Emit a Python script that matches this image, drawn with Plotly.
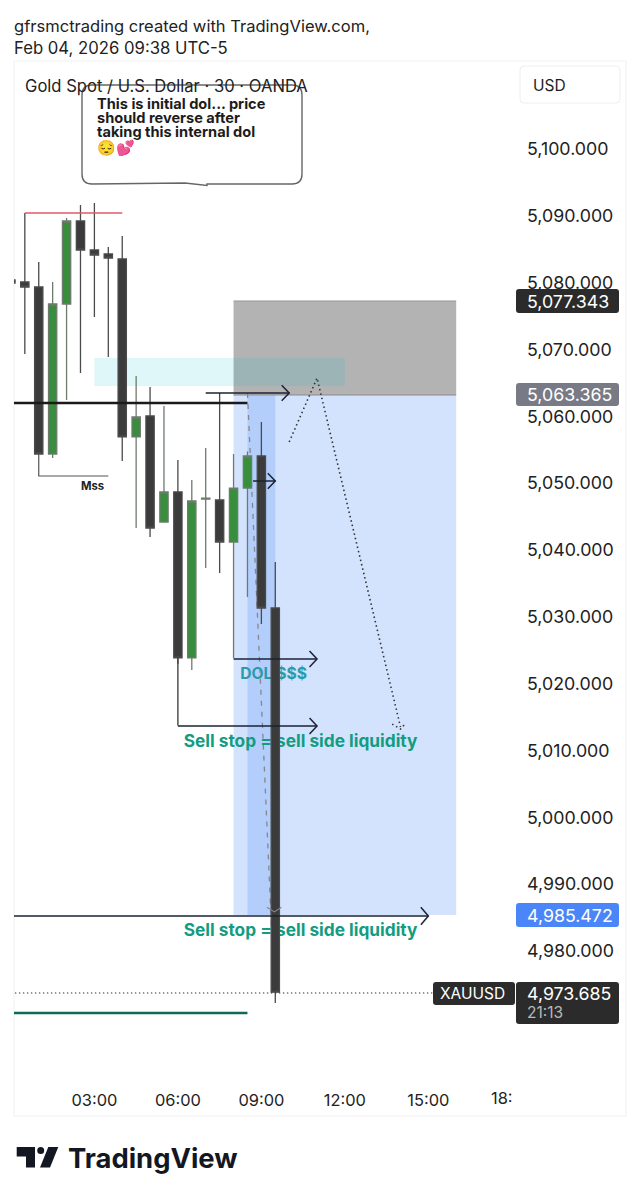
import plotly.graph_objects as go

FONT = "Inter, 'Liberation Sans', sans-serif"
DAY = "2026-02-04"

# ---- data ----
candle_times = ["00:00","00:30","01:00","01:30","02:00","02:30","03:00","03:30","04:00","04:30",
                "05:00","05:30","06:00","06:30","07:00","07:30","08:00","08:30","09:00","09:30"]
open_  = [5080.25,5079.95,5079.20,5054.21,5076.66,5089.08,5084.74,5084.14,5083.39,5056.76,
          5059.90,5044.04,5048.53,5023.69,5047.48,5047.33,5041.04,5049.12,5053.91,5031.17]
high   = [5080.60,5090.27,5082.94,5079.95,5089.53,5091.47,5091.77,5085.19,5086.83,5065.88,
          5064.24,5061.39,5053.31,5050.32,5055.11,5063.34,5054.21,5054.60,5059.00,5038.05]
low    = [5079.50,5069.18,5054.21,5053.61,5062.29,5066.33,5074.71,5068.73,5053.17,5043.14,
          5041.79,5044.04,5022.79,5021.89,5037.15,5036.41,5023.69,5032.81,5028.77,4972.06]
close  = [5079.80,5079.20,5054.21,5076.66,5089.08,5084.74,5083.99,5083.54,5056.76,5059.75,
          5043.14,5048.53,5023.69,5047.18,5047.62,5041.04,5049.12,5053.91,5031.17,4973.685]

y_ticks = [4980,4990,5000,5010,5020,5030,5040,5050,5060,5070,5080,5090,5100]
y_labels = [f"{v:,.3f}" for v in y_ticks]
x_ticks = ["03:00","06:00","09:00","12:00","15:00"]

entry_top, entry, target = 5077.11, 5063.04, 4985.23
cyan_top, cyan_bottom = 5068.58, 5064.39
black_level, red_level, mss_level = 5061.84, 5090.27, 5050.92
last_line, green_level = 4973.56, 4970.57

W, H = 640, 1200
L, R, T_, B = 14, 513, 61, 1083
Y_RANGE = [4960.09, 5113.02]
X_RANGE = [f"{DAY} 00:06:40", f"{DAY} 18:02:30"]
PW, PH = R - L, B - T_

def px(x): return (x - L) / PW
def py(y): return (B - y) / PH
def tm(h):
    total = int(round(h * 3600))
    return f"{DAY} {total//3600:02d}:{(total%3600)//60:02d}:{total%60:02d}"
def tp(h): return tm(h).replace(" ", "_")

shapes, anns = [], []

def rect(h0, h1, p0, p1, fill, layer="below", line=None):
    shapes.append(dict(type="rect", xref="x", yref="y", x0=tm(h0), x1=tm(h1), y0=p0, y1=p1,
                       fillcolor=fill, line=line or dict(width=0), layer=layer))
def seg(pts, color, width=1.5, dash="solid", layer="above"):
    d = "M" + " L".join(f"{tp(h)},{p}" for h, p in pts)
    shapes.append(dict(type="path", xref="x", yref="y", path=d, line=dict(color=color, width=width, dash=dash), layer=layer))
def arrow(h0, h1, p, color="#1b2233", dh=0.27, dp=1.15):
    seg([(h0, p), (h1, p)], color)
    seg([(h1-dh, p+dp), (h1, p), (h1-dh, p-dp)], color)
def rrect(x0, y0, x1, y1, r, fill, line=None, lw=0):
    X0, X1, Y0, Y1 = px(x0), px(x1), py(y0), py(y1)
    rx, ry = r / PW, r / PH
    d = (f"M{X0+rx},{Y0} L{X1-rx},{Y0} Q{X1},{Y0} {X1},{Y0-ry} L{X1},{Y1+ry} Q{X1},{Y1} {X1-rx},{Y1} "
         f"L{X0+rx},{Y1} Q{X0},{Y1} {X0},{Y1+ry} L{X0},{Y0-ry} Q{X0},{Y0} {X0+rx},{Y0} Z")
    shapes.append(dict(type="path", xref="paper", yref="paper", path=d, fillcolor=fill,
                       line=dict(color=line or fill, width=lw), layer="above"))
def text(x, y, s, size=15, color="#222", anchor="left", weight=None, family=FONT):
    f = dict(family=family, size=size, color=color)
    if weight: f["weight"] = weight
    anns.append(dict(xref="paper", yref="paper", x=px(x), y=py(y), text=s, showarrow=False,
                     xanchor=anchor, yanchor="middle", font=f, borderpad=0, borderwidth=0, align="left"))
def under_text(h, p, s, size, color):
    shapes.append(dict(type="rect", xref="x", yref="y", x0=tm(h), x1=tm(h+0.01), y0=p, y1=p+0.01,
                       line=dict(width=0), fillcolor="rgba(0,0,0,0)", layer="below",
                       label=dict(text=s, font=dict(family=FONT, size=size, color=color, weight=700),
                                  textposition="middle left", xanchor="left", yanchor="middle", padding=0)))

# chart frame
shapes.append(dict(type="rect", xref="paper", yref="paper", x0=px(14), x1=px(626), y0=py(61), y1=py(1116),
                   line=dict(color="#f0f0f0", width=1), layer="below"))

# zones (below candles)
rect(8.0, 16.0, entry, target, "#d3e3fd")
rect(8.5, 9.5, entry, target, "#b3cefb")
rect(8.0, 16.0, entry_top, entry, "#b3b3b3")
seg([(8.0, entry_top), (16.0, entry_top)], "#999999", 1, layer="below")
seg([(8.0, entry), (16.0, entry)], "#8a8a8a", 1, layer="below")
rect(3.0, 12.0, cyan_top, cyan_bottom, "rgba(0,188,212,0.12)")
seg([(8.5, 5063.34), (9.47, 4973.7)], "#85878d", 1.3, "5px,6px", layer="below")
under_text(8.13, 5021.5, "DOL $$$", 15.7, "#2a9bab")
under_text(6.1, 5011.45, "Sell stop = sell side liquidity", 17.3, "#129c82")
under_text(6.1, 4983.05, "Sell stop = sell side liquidity", 17.3, "#129c82")

# drawings above candles
DOT = "1.5px,3px"
seg([(0.0, black_level), (8.5, black_level)], "#1a1a1a", 2.6)
seg([(0.5, red_level), (4.0, red_level)], "#e0596a", 1.5)
seg([(1.0, 5054.21), (1.0, mss_level), (3.5, mss_level)], "#555555", 1.2)
seg([(6.0, 5023.69), (6.0, 5013.6)], "#444444", 1.4)
arrow(7.0, 10.0, 5063.34)
arrow(8.7, 9.5, 5050.17)
arrow(8.0, 11.0, 5023.54, dh=0.27, dp=1.2)
arrow(6.0, 11.0, 5013.51, dh=0.27, dp=1.2)
arrow(0.0, 15.0, 4985.08, dh=0.27, dp=1.3)
seg([(10.0, 5056.01), (11.0, 5065.58), (14.0, 5013.36)], "#333333", 1.6, DOT)
seg([(13.7, 5013.8), (14.0, 5013.06), (14.2, 5014.0)], "#333333", 1.6, DOT)
seg([(9.2, 4986.4), (9.47, 4985.7), (9.72, 4986.4)], "#85878d", 1.1)
seg([(0.0, last_line), (15.15, last_line)], "#333333", 1.2, "1.4px,2.6px")
seg([(0.0, green_level), (8.5, green_level)], "#0b6b57", 2.4)

# callout
X0, X1, Y0, Y1 = 82, 302, 85, 184
rx, ry = 10 / PW, 10 / PH
d = (f"M{px(X0)+rx},{py(Y0)} L{px(X1)-rx},{py(Y0)} Q{px(X1)},{py(Y0)} {px(X1)},{py(Y0)-ry} "
     f"L{px(X1)},{py(Y1)+ry} Q{px(X1)},{py(Y1)} {px(X1)-rx},{py(Y1)} L{px(207)},{py(Y1)} L{px(207)},{py(185.5)} L{px(185)},{py(Y1-1)} "
     f"L{px(X0)+rx},{py(Y1)} Q{px(X0)},{py(Y1)} {px(X0)},{py(Y1)+ry} L{px(X0)},{py(Y0)-ry} Q{px(X0)},{py(Y0)} {px(X0)+rx},{py(Y0)} Z")
shapes.append(dict(type="path", xref="paper", yref="paper", path=d, line=dict(color="#666666", width=1.4), layer="above"))

# price badges
rrect(520, 66, 620, 103, 4, "#ffffff", "#eeeeee", 1)
rrect(516, 289, 619, 313, 3, "#2b2b2b")
rrect(516, 383, 619, 406, 3, "#787b86")
rrect(516, 903, 619, 927, 3, "#4a86f7")
rrect(433, 982, 515, 1005, 3, "#2b2b2b")
rrect(516, 982, 619, 1024, 3, "#2b2b2b")

# logo
LOGO = "#131722"
shapes.append(dict(type="path", xref="paper", yref="paper", fillcolor=LOGO, line=dict(width=0), layer="above",
    path=f"M{px(16.7)},{py(1147)} L{px(35)},{py(1147)} L{px(35)},{py(1167.5)} L{px(26)},{py(1167.5)} L{px(26)},{py(1156.5)} L{px(16.7)},{py(1156.5)} Z"))
shapes.append(dict(type="circle", xref="paper", yref="paper", fillcolor=LOGO, line=dict(width=0), layer="above",
    x0=px(37.2), x1=px(44.2), y0=py(1154), y1=py(1147)))
shapes.append(dict(type="path", xref="paper", yref="paper", fillcolor=LOGO, line=dict(width=0), layer="above",
    path=f"M{px(48.3)},{py(1147)} L{px(58.3)},{py(1147)} L{px(50)},{py(1167.5)} L{px(40)},{py(1167.5)} Z"))

# texts
text(14, 26, "gfrsmctrading created with TradingView.com,", 16.55)
text(14, 48, "Feb 04, 2026 09:38 UTC-5", 16.7)
text(25, 86, "Gold Spot / U.S. Dollar · 30 · OANDA", 16.6)
text(97, 104, "This is initial dol... price", 14.6, "#1c1c1c", weight=700)
text(97, 118, "should reverse after", 14.6, "#1c1c1c", weight=700)
text(97, 132, "taking this internal dol", 14.6, "#1c1c1c", weight=700)
text(97, 147, "😔💕", 15, "#e8a020", weight=700)
text(81, 486, "Mss", 11.3, "#222", weight=700)
text(533, 85, "USD", 15.5)
text(527, 301, "5,077.343", 17.8, "#ffffff")
text(527, 394.5, "5,063.365", 17.8, "#ffffff")
text(527, 915, "4,985.472", 17.8, "#ffffff")
text(440, 993, "XAUUSD", 15.5, "#ffffff")
text(527, 993, "4,973.685", 17.8, "#ffffff")
text(527, 1012, "21:13", 15.5, "#b8b8b8")
text(513, 1098, "18:", 16.4, "#222", anchor="right")
text(68, 1158, "TradingView", 27.4, LOGO, weight=700)

fig = go.Figure(go.Candlestick(
    x=[f"{DAY} {t}" for t in candle_times],
    open=open_, high=high, low=low, close=close,
    increasing=dict(fillcolor="#388e3c", line=dict(color="#6f7a6f", width=1.3)),
    decreasing=dict(fillcolor="#3b3b3b", line=dict(color="#4a4a4a", width=1.3)),
    whiskerwidth=0, hoverinfo="skip", showlegend=False))

fig.update_layout(
    width=W, height=H, autosize=False, paper_bgcolor="#ffffff", plot_bgcolor="rgba(0,0,0,0)",
    margin=dict(l=L, r=W-R, t=T_, b=H-B, pad=0), boxgap=0.15, showlegend=False,
    font=dict(family=FONT, color="#222"), shapes=shapes, annotations=anns,
    xaxis=dict(type="date", range=X_RANGE, rangeslider=dict(visible=False), showgrid=False, zeroline=False,
               showline=False, tickmode="array", tickvals=[f"{DAY} {t}" for t in x_ticks], ticktext=x_ticks,
               ticks="", ticklabelstandoff=6, tickfont=dict(family=FONT, size=16.4, color="#222")),
    yaxis=dict(side="right", range=Y_RANGE, showgrid=False, zeroline=False, showline=False,
               tickmode="array", tickvals=y_ticks, ticktext=y_labels, ticks="", ticklabelstandoff=13,
               ticklabelshift=1, tickfont=dict(family=FONT, size=17.8, color="#222")),
)

fig.write_html("out.html", config=dict(displayModeBar=False),
               post_script="document.body.style.margin='0';document.documentElement.style.overflow='hidden';")
